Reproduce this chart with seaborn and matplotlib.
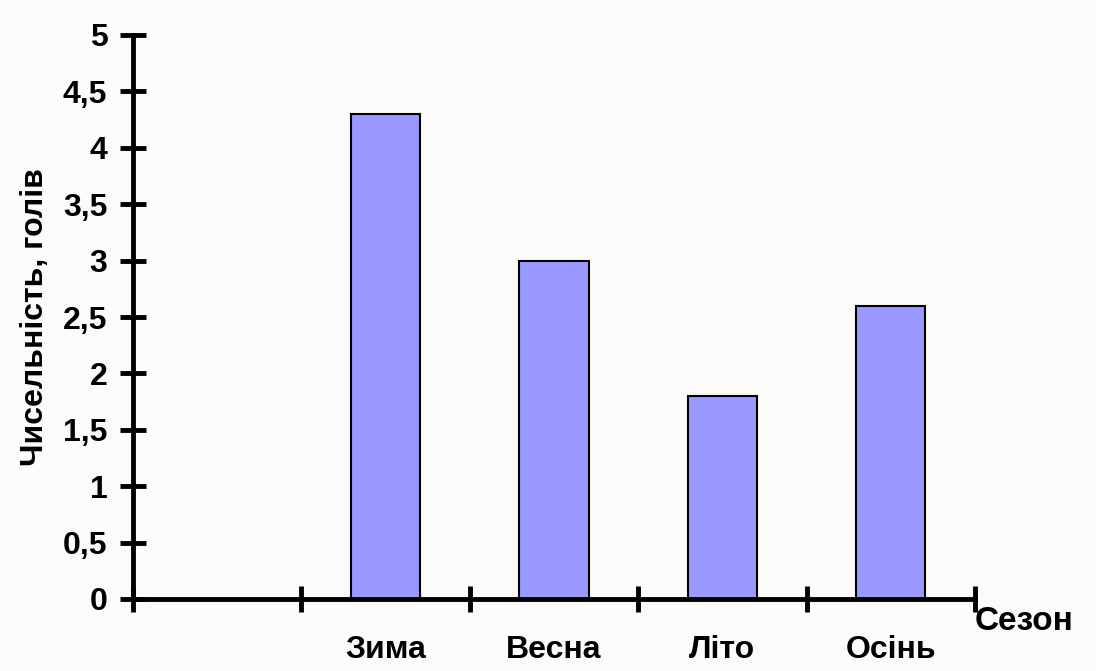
import numpy as np
import pandas as pd
import matplotlib
matplotlib.use('Agg')
import matplotlib.pyplot as plt
import seaborn as sns
from matplotlib.ticker import FixedLocator, MultipleLocator

# Дані
sezony = ['Зима', 'Весна', 'Літо', 'Осінь']
chyselnist = [4.3, 3.0, 1.8, 2.6]
poryadok = [' '] + sezony  # перша позиція порожня

df = pd.DataFrame({'sezon': sezony, 'chyselnist': chyselnist})

sns.set_style('white')
plt.rcParams['font.family'] = ['Liberation Sans', 'DejaVu Sans']
plt.rcParams['font.weight'] = 'bold'
plt.rcParams['text.color'] = 'black'
plt.rcParams['xtick.color'] = 'black'
plt.rcParams['ytick.color'] = 'black'
plt.rcParams['axes.labelcolor'] = 'black'

fon = '#fcfbfa'
fig = plt.figure(figsize=(10.96, 6.71), dpi=100, facecolor=fon)
ax = fig.add_axes([133 / 1096, 1 - 599 / 671, (975 - 133) / 1096, (599 - 35) / 671])
ax.set_facecolor(fon)

sns.barplot(data=df, x='sezon', y='chyselnist', order=poryadok, color='#9999ff',
            saturation=1, width=0.41, edgecolor='black', linewidth=1.5, ax=ax)

ax.set_xlim(-0.5, 4.5)
ax.set_ylim(0, 5)
ax.yaxis.set_major_locator(MultipleLocator(0.5))
ax.set_yticklabels([f'{v:g}'.replace('.', ',') for v in ax.get_yticks()])

for s in ['top', 'right']:
    ax.spines[s].set_visible(False)
for s in ['left', 'bottom']:
    ax.spines[s].set_linewidth(3.5)
    ax.spines[s].set_color('black')

ax.xaxis.set_minor_locator(FixedLocator(np.arange(-0.5, 5, 1)))
ax.tick_params(axis='x', which='major', bottom=True, length=0, pad=26, labelsize=23)
ax.tick_params(axis='x', which='minor', bottom=True, length=19, width=3.5,
               direction='inout', color='black')
ax.tick_params(axis='y', which='major', left=True, length=19, width=3.5,
               direction='inout', color='black', labelsize=23, pad=9)
for lbl in ax.get_xticklabels() + ax.get_yticklabels():
    lbl.set_fontweight('bold')

ax.set_xlabel('')
ax.set_ylabel('Чисельність, голів', fontsize=23, fontweight='bold')
ax.yaxis.set_label_coords(-0.099, 0.5)
fig.text(1024 / 1096, 1 - 621 / 671, 'Сезон', fontsize=24, fontweight='bold',
         ha='center', va='center')

fig.savefig('out.png', dpi=100, facecolor=fon)
